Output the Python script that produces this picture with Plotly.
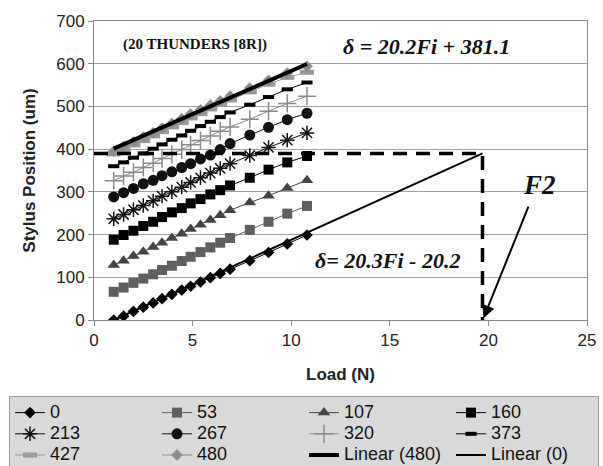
import plotly.graph_objects as go

# ---------------- data ----------------
load_x = [1.0, 1.5, 2.0, 2.5, 3.0, 3.45, 3.95, 4.45, 4.9, 5.4, 5.9, 6.4, 6.9, 7.9, 8.85, 9.8, 10.8]

series_names = ["0", "53", "107", "160", "213", "267", "320", "373", "427", "480"]
s0   = [0, 9, 20, 30, 40, 50, 60, 70, 79, 89, 99, 109, 119, 139, 158, 178, 199]
s53  = [66, 76, 87, 97, 107, 117, 127, 138, 148, 159, 170, 181, 192, 211, 230, 249, 267]
s107 = [129, 139, 150, 160, 171, 181, 192, 202, 213, 223, 234, 245, 257, 275, 291, 309, 327]
s160 = [188, 199, 209, 220, 230, 241, 252, 262, 273, 283, 294, 304, 315, 333, 352, 369, 384]
s213 = [237, 247, 258, 268, 279, 290, 300, 311, 322, 333, 344, 355, 366, 385, 404, 421, 438]
s267 = [288, 298, 308, 319, 327, 338, 347, 357, 366, 377, 386, 399, 413, 433, 451, 469, 484]
s320 = [326, 337, 346, 357, 367, 378, 388, 399, 410, 420, 431, 442, 452, 470, 489, 507, 524]
s373 = [360, 369, 380, 390, 401, 411, 422, 432, 443, 454, 464, 475, 486, 504, 522, 540, 556]
s427 = [389, 399, 410, 420, 431, 441, 452, 462, 473, 483, 494, 505, 515, 534, 552, 568, 580]
s480 = [395, 406, 417, 428, 438, 449, 460, 471, 482, 492, 503, 513, 524, 543, 561, 578, 594]
series_values = [s0, s53, s107, s160, s213, s267, s320, s373, s427, s480]

# trendline of the 480 series
trend480_slope = 20.2
trend480_intercept = 381.1
# F2 construction
f2_x = 19.7
f2_level = 390

x_ticks = [0, 5, 10, 15, 20, 25]
y_ticks = [0, 100, 200, 300, 400, 500, 600, 700]

# ---------------- styles ----------------
styles = [
    dict(symbol="diamond", size=9, color="#000000", lw=0),
    dict(symbol="square", size=10, color="#5f5f5f", lw=0),
    dict(symbol="triangle-up", size=11, color="#444444", lw=0),
    dict(symbol="square", size=10, color="#000000", lw=0),
    dict(symbol="asterisk-open", size=12, color="#111111", lw=1.5),
    dict(symbol="circle", size=11, color="#111111", lw=0),
    dict(symbol="cross-thin-open", size=13, color="#8a8a8a", lw=1.5),
    dict(symbol="line-ew-open", size=8, color="#000000", lw=4),
    dict(symbol="line-ew-open", size=10, color="#999999", lw=5),
    dict(symbol="diamond", size=9, color="#8c8c8c", lw=0),
]

LEG = "<span style='font-size:18px'>{}</span>"

fig = go.Figure()

for name, vals, st in zip(series_names, series_values, styles):
    fig.add_trace(go.Scatter(
        x=load_x, y=vals, name=LEG.format(name), mode="lines+markers",
        line=dict(color=st["color"], width=1),
        marker=dict(symbol=st["symbol"], size=st["size"], color=st["color"],
                    line=dict(color=st["color"], width=st["lw"])),
    ))

# Linear (480)
t480_x = [load_x[0], load_x[-1]]
t480_y = [trend480_slope * v + trend480_intercept for v in t480_x]
fig.add_trace(go.Scatter(x=t480_x, y=t480_y, name=LEG.format("Linear (480)"), mode="lines",
                         line=dict(color="#000000", width=4)))
# Linear (0), extended to F2
fig.add_trace(go.Scatter(x=[load_x[0], f2_x], y=[s0[0], f2_level], name=LEG.format("Linear (0)"),
                         mode="lines", line=dict(color="#000000", width=2)))

# dashed construction lines
fig.add_trace(go.Scatter(x=[0, f2_x, f2_x], y=[f2_level, f2_level, 0], mode="lines",
                         line=dict(color="#000000", width=3.5, dash="14px,9px"),
                         showlegend=False, hoverinfo="skip"))

serif = "Liberation Serif, Times New Roman, serif"
fig.add_annotation(x=5.14, y=645, text="(20 THUNDERS [8R])", showarrow=False,
                   font=dict(family=serif, size=15, color="#111111", weight="bold"))
fig.add_annotation(x=16.87, y=640, text="δ = 20.2Fi + 381.1", showarrow=False,
                   font=dict(family=serif, size=22, color="#111111", weight="bold", style="italic"))
fig.add_annotation(x=14.9, y=140, text="δ= 20.3Fi - 20.2", showarrow=False,
                   font=dict(family=serif, size=22, color="#111111", weight="bold", style="italic"))
fig.add_annotation(x=22.6, y=315, text="F2", showarrow=False,
                   font=dict(family=serif, size=27, color="#111111", weight="bold", style="italic"))
fig.add_annotation(x=19.75, y=4, ax=22.06, ay=269, axref="x", ayref="y", xref="x", yref="y",
                   text="", showarrow=True, arrowhead=2, arrowsize=1.3, arrowwidth=2,
                   arrowcolor="#000000")

axis_font = dict(family="Liberation Sans, Arial, sans-serif", size=17, color="#222222")
fig.update_layout(
    width=603, height=466,
    margin=dict(l=94, r=16, t=21, b=146, autoexpand=False),
    paper_bgcolor="#ffffff", plot_bgcolor="#ffffff",
    font=dict(family="Liberation Sans, Arial, sans-serif", size=17, color="#222222"),
    xaxis=dict(range=[0, 25], tickvals=x_ticks, showgrid=False, zeroline=False,
               ticks="outside", ticklen=5, tickcolor="#888888",
               showline=True, linecolor="#888888", linewidth=1, mirror=True,
               tickfont=axis_font,
               title=dict(text="<b>Load (N)</b>", font=axis_font, standoff=18)),
    yaxis=dict(range=[0, 700], tickvals=y_ticks, showgrid=True, gridcolor="#a0a0a0",
               gridwidth=1, zeroline=False,
               ticks="outside", ticklen=5, tickcolor="#888888",
               showline=True, linecolor="#888888", linewidth=1, mirror=True,
               tickfont=axis_font,
               title=dict(text="<b>Stylus Position (um)</b>", font=axis_font, standoff=16)),
    showlegend=True,
    legend=dict(orientation="h", x=(9 - 94) / 493, y=(320 - 396) / 299, xanchor="left", yanchor="top",
                bgcolor="#d9d9d9", bordercolor="#9a9a9a", borderwidth=1,
                font=dict(family="Liberation Sans, Arial, sans-serif", size=14, color="#111111"),
                entrywidth=102, entrywidthmode="pixels", itemwidth=30,
                tracegroupgap=0),
)

fig.write_html("out.html", config={"displayModeBar": False},
               post_script="document.body.style.margin='0px';")
